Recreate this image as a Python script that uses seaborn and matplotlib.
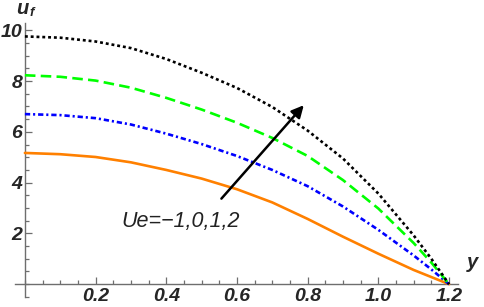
import numpy as np
import pandas as pd
import matplotlib
matplotlib.use("Agg")
import matplotlib.pyplot as plt
from matplotlib.ticker import MultipleLocator, FixedLocator
import seaborn as sns

# values (y position vs u_f for Ue = -1, 0, 1, 2)
y_pos = [0.0, 0.1, 0.2, 0.3, 0.4, 0.5, 0.6, 0.7, 0.8, 0.9, 1.0, 1.1, 1.15, 1.2]
uf_m1 = [5.17, 5.12, 5.01, 4.80, 4.50, 4.16, 3.74, 3.22, 2.57, 1.87, 1.20, 0.56, 0.28, 0.0]
uf_0 = [6.70, 6.66, 6.54, 6.29, 5.93, 5.52, 5.05, 4.50, 3.86, 3.06, 2.14, 1.13, 0.58, 0.0]
uf_1 = [8.23, 8.17, 8.02, 7.74, 7.34, 6.88, 6.36, 5.76, 5.05, 4.10, 2.98, 1.62, 0.85, 0.0]
uf_2 = [9.76, 9.71, 9.56, 9.30, 8.87, 8.33, 7.73, 6.98, 6.05, 4.95, 3.57, 1.92, 1.00, 0.0]

series = [
    (uf_m1, "#ff8000", "-"),
    (uf_0, "#0000ff", (0, (2.0, 1.1, 0.8, 1.1))),
    (uf_1, "#00ff00", (0, (4.0, 2.0))),
    (uf_2, "#000000", (0, (1.1, 1.1))),
]

sns.set_style("ticks")
plt.rcParams["font.family"] = ["Liberation Sans", "DejaVu Sans"]

fig = plt.figure(figsize=(4.84, 3.07), dpi=100)
ax = fig.add_axes([0.031, 0.033, 0.915, 0.893])

for vals, col, ls in series:
    df = pd.DataFrame({"y": y_pos, "uf": vals})
    sns.lineplot(data=df, x="y", y="uf", color=col, linestyle=ls,
                 linewidth=1.9, ax=ax, sort=True)

ax.set_xlim(-0.028, 1.225)
ax.set_ylim(-0.5, 10.3)
ax.set_xlabel("")
ax.set_ylabel("")

for side in ["top", "right"]:
    ax.spines[side].set_visible(False)
ax.spines["left"].set_position(("data", 0))
ax.spines["bottom"].set_position(("data", 0))
for side in ["left", "bottom"]:
    ax.spines[side].set_color("#6e6e6e")
    ax.spines[side].set_linewidth(1.0)
    ax.spines[side].set_zorder(1)

ax.xaxis.set_major_locator(FixedLocator([0.2, 0.4, 0.6, 0.8, 1.0, 1.2]))
ax.xaxis.set_minor_locator(MultipleLocator(0.05))
ax.yaxis.set_major_locator(FixedLocator([2, 4, 6, 8, 10]))
ax.yaxis.set_minor_locator(MultipleLocator(0.5))
ax.set_xticklabels(["0.2", "0.4", "0.6", "0.8", "1.0", "1.2"])
ax.set_yticklabels(["2", "4", "6", "8", "10"])
ax.tick_params(which="both", direction="in", color="#6e6e6e", width=0.9,
               bottom=True, left=True, top=False, right=False)
ax.tick_params(which="major", length=5, labelsize=14)
ax.tick_params(which="minor", length=3)
ax.tick_params(axis="x", pad=3)
ax.tick_params(axis="y", pad=2)
for lab in ax.get_xticklabels() + ax.get_yticklabels():
    lab.set_fontweight("bold")
    lab.set_fontstyle("italic")

# axis names
ax.text(-0.024, 10.85, "u", fontsize=14.5, fontweight="bold", fontstyle="italic",
        ha="left", va="center", clip_on=False)
ax.text(0.012, 10.68, "f", fontsize=9.5, fontweight="bold", fontstyle="italic",
        ha="left", va="center", clip_on=False)
ax.text(1.267, 0.87, "y", fontsize=14.5, fontweight="bold", fontstyle="italic",
        ha="center", va="center", clip_on=False)

# arrow and annotation
ax.annotate("", xy=(0.789, 7.05), xytext=(0.556, 3.37),
            arrowprops=dict(arrowstyle="-|>", color="black", lw=1.8,
                            mutation_scale=18, shrinkA=0, shrinkB=0))
ax.text(0.44, 2.45, "Ue=\u22121,0,1,2", fontsize=15.5, fontstyle="italic",
        color="#222222", ha="center", va="center")

fig.savefig("out.png", dpi=100)
